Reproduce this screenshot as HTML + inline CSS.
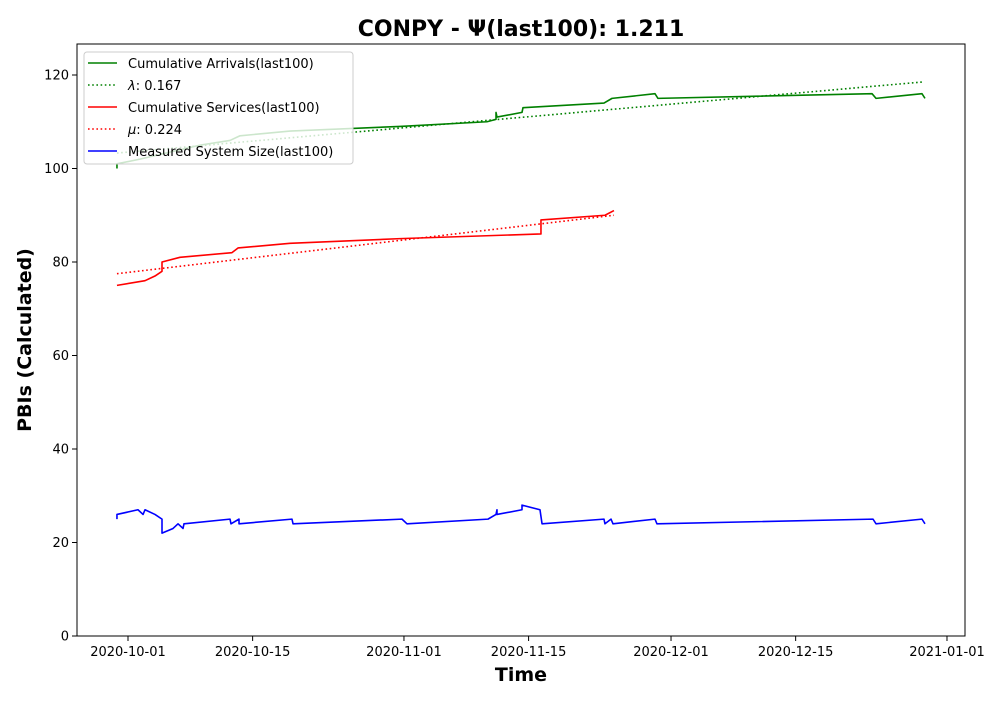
<!DOCTYPE html>
<html><head><meta charset="utf-8">
<style>
body{margin:0;background:#fff;}
svg text{font-family:"DejaVu Sans","Liberation Sans",sans-serif;}
</style></head>
<body>
<svg id="chart" width="1000" height="700" xmlns="http://www.w3.org/2000/svg">
<rect width="1000" height="700" fill="#fff"/>
<text x="521" y="36" text-anchor="middle" font-size="22" font-weight="bold">CONPY -  Ψ(last100): 1.211</text>
<g id="plot"></g>
<rect x="77" y="44" width="888" height="592" fill="none" stroke="#000" stroke-width="1"/>
<text x="521" y="681" text-anchor="middle" font-size="19" font-weight="bold">Time</text>
<text transform="translate(31,340) rotate(-90)" text-anchor="middle" font-size="19" font-weight="bold">PBIs (Calculated)</text>
<g id="legend">
<rect x="84" y="52" width="269" height="112" rx="3" fill="#fff" fill-opacity="0.8" stroke="#ccc"/>
<line x1="88" y1="63" x2="117" y2="63" stroke="green" stroke-width="1.6"/>
<text x="128" y="68" font-size="13">Cumulative Arrivals(last100)</text>
<line x1="88" y1="85" x2="117" y2="85" stroke="green" stroke-width="1.6" stroke-dasharray="1.6,2.6"/>
<text x="128" y="90" font-size="13"><tspan font-style="italic">λ</tspan>: 0.167</text>
<line x1="88" y1="107" x2="117" y2="107" stroke="red" stroke-width="1.6"/>
<text x="128" y="112" font-size="13">Cumulative Services(last100)</text>
<line x1="88" y1="129" x2="117" y2="129" stroke="red" stroke-width="1.6" stroke-dasharray="1.6,2.6"/>
<text x="128" y="134" font-size="13"><tspan font-style="italic">μ</tspan>: 0.224</text>
<line x1="88" y1="151" x2="117" y2="151" stroke="blue" stroke-width="1.6"/>
<text x="128" y="156" font-size="13">Measured System Size(last100)</text>
</g>
</svg>
<script>
// day offsets from 2020-10-01
const arrDays=[-1.24,-1.24,1.35,8.09,11.46,12.58,18.2,30.55,40.33,41.34,41.34,41.45,44.26,44.37,53.47,54.37,59.2,59.53,83.58,84.03,89.19,89.53];
const arrVals=[100,101,102,105,106,107,108,109,110,110.5,112,111,112,113,114,115,116,115,116,115,116,115];
const lamDays=[-1.24,89.19];
const lamVals=[103.3,118.5];
const srvDays=[-1.24,1.91,3.03,3.82,3.82,5.84,11.68,12.36,18.2,30.55,46.39,46.39,53.58,54.59];
const srvVals=[75,76,77,78,80,81,82,83,84,85,86,89,90,91];
const muDays=[-1.24,54.59];
const muVals=[77.5,90];
const sysDays=[-1.24,-1.24,1.12,1.69,1.91,3.03,3.82,3.82,5.06,5.62,6.18,6.29,11.46,11.57,12.47,12.47,18.42,18.54,30.78,31.34,40.44,41.34,41.45,41.45,44.26,44.26,46.28,46.51,53.47,53.58,54.26,54.48,59.2,59.42,83.69,84.03,89.19,89.53];
const sysVals=[25,26,27,26,27,26,25,22,23,24,23,24,25,24,25,24,25,24,25,24,25,26,27,26,27,28,27,24,25,24,25,24,25,24,25,24,25,24];
const yTicks=[0,20,40,60,80,100,120];
const xTickDays=[0,14,31,45,61,75,92];
const xTickLabels=["2020-10-01","2020-10-15","2020-11-01","2020-11-15","2020-12-01","2020-12-15","2021-01-01"];

const NS="http://www.w3.org/2000/svg";
const X=d=>128+d*8.902;
const Y=v=>636-v*4.675;
const plot=document.getElementById('plot');
function mk(t,a){const e=document.createElementNS(NS,t);for(const k in a)e.setAttribute(k,a[k]);plot.appendChild(e);return e;}
yTicks.forEach(v=>{
  const l=mk('line',{x1:72,x2:77,y1:Y(v),y2:Y(v),stroke:'#000'});
  
  
  const t=mk('text',{x:69,y:Y(v)+4.5,'text-anchor':'end','font-size':13});
  
  
  t.textContent=v;
});
xTickDays.forEach((d,i)=>{
  const l=mk('line',{x1:X(d),x2:X(d),y1:636,y2:641,stroke:'#000'});
  
  
  const t=mk('text',{x:X(d),y:656,'text-anchor':'middle','font-size':13});
  
  
  t.textContent=xTickLabels[i];
});
function series(days,vals,color,dash,name){
  const p=mk('polyline',{points:days.map((d,i)=>X(d)+','+Y(vals[i])).join(' '),fill:'none',stroke:color,'stroke-width':1.6,'stroke-linejoin':'round'});
  if(dash)p.setAttribute('stroke-dasharray','1.6,2.6');
  
  
}
series(arrDays,arrVals,'green',false,'arrivals-line');
series(lamDays,lamVals,'green',true,'lambda-fit-line');
series(srvDays,srvVals,'red',false,'services-line');
series(muDays,muVals,'red',true,'mu-fit-line');
series(sysDays,sysVals,'blue',false,'system-size-line');
</script>
</body></html>
